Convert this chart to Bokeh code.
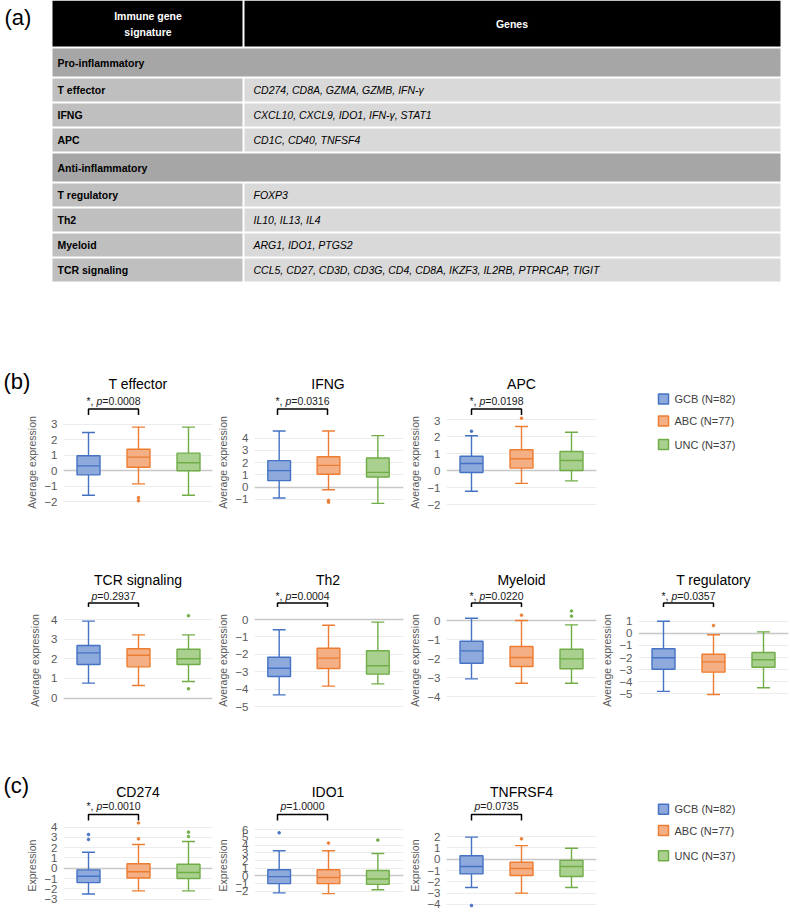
import math
from bokeh.plotting import figure
from bokeh.layouts import row, column
from bokeh.models import Range1d, FixedTicker, Grid, ColumnDataSource
from bokeh.core.properties import value
from bokeh.embed import file_html
from bokeh.resources import INLINE

FONT = "Liberation Sans"

# ============================ DATA ============================
groups = ["GCB", "ABC", "UNC"]
group_sizes = [82, 77, 37]

table_header = ["Immune gene", "signature", "Genes"]
table_sections = ["Pro-inflammatory", "Anti-inflammatory"]
table_signatures = ["T effector", "IFNG", "APC", "T regulatory", "Th2", "Myeloid", "TCR signaling"]
table_signature_section = [0, 0, 0, 1, 1, 1, 1]
table_genes = [
    "CD274, CD8A, GZMA, GZMB, IFN-γ",
    "CXCL10, CXCL9, IDO1, IFN-γ, STAT1",
    "CD1C, CD40, TNFSF4",
    "FOXP3",
    "IL10, IL13, IL4",
    "ARG1, IDO1, PTGS2",
    "CCL5, CD27, CD3D, CD3G, CD4, CD8A, IKZF3, IL2RB, PTPRCAP, TIGIT",
]

# box summaries per group (GCB, ABC, UNC): [lower whisker, Q1, median, Q3, upper whisker]
t_effector_box = [[-1.60, -0.28, 0.30, 0.95, 2.45], [-0.86, 0.21, 0.86, 1.37, 2.80], [-1.60, -0.02, 0.50, 1.12, 2.80]]
t_effector_out = [[], [-1.75, -1.95], []]
t_effector_ticks = [3, 2, 1, 0, -1, -2]
t_effector_p = "0.0008"

ifng_box = [[-0.90, 0.52, 1.34, 2.16, 4.59], [-0.22, 1.04, 1.77, 2.48, 4.59], [-1.34, 0.82, 1.20, 2.38, 4.21]]
ifng_out = [[], [-1.10, -1.25], []]
ifng_ticks = [4, 3, 2, 1, 0, -1]
ifng_p = "0.0316"

apc_box = [[-1.22, -0.12, 0.41, 0.84, 2.04], [-0.76, 0.14, 0.69, 1.22, 2.59], [-0.61, 0.00, 0.59, 1.12, 2.25]]
apc_out = [[2.31], [3.08], []]
apc_ticks = [3, 2, 1, 0, -1, -2]
apc_p = "0.0198"

tcr_box = [[0.76, 1.71, 2.30, 2.68, 3.92], [0.64, 1.59, 2.18, 2.51, 3.22], [0.84, 1.71, 2.00, 2.49, 3.22]]
tcr_out = [[], [], [4.20, 0.47]]
tcr_ticks = [4, 3, 2, 1, 0]
tcr_p = "0.2937"

th2_box = [[-4.33, -3.28, -2.80, -2.17, -0.59], [-3.83, -2.82, -2.22, -1.65, -0.33], [-3.70, -3.14, -2.66, -1.80, -0.15]]
th2_out = [[], [], []]
th2_ticks = [0, -1, -2, -3, -4, -5]
th2_p = "0.0004"

myeloid_box = [[-3.07, -2.25, -1.60, -1.09, 0.12], [-3.30, -2.42, -1.95, -1.37, 0.00], [-3.30, -2.54, -2.02, -1.51, -0.23]]
myeloid_out = [[], [0.28], [0.23, 0.50]]
myeloid_ticks = [0, -1, -2, -3, -4]
myeloid_p = "0.0220"

treg_box = [[-4.80, -2.97, -2.02, -1.28, 1.00], [-5.06, -3.21, -2.36, -1.73, -0.12], [-4.50, -2.80, -2.19, -1.59, 0.12]]
treg_out = [[], [0.64], []]
treg_ticks = [1, 0, -1, -2, -3, -4, -5]
treg_p = "0.0357"

cd274_box = [[-2.50, -1.40, -0.78, -0.16, 1.55], [-2.20, -0.95, -0.35, 0.43, 2.30], [-2.20, -1.00, -0.42, 0.39, 2.59]]
cd274_out = [[2.79, 3.27], [2.85, 4.40], [3.08, 3.50]]
cd274_ticks = [4, 3, 2, 1, 0, -1, -2, -3]
cd274_p = "0.0010"

ido1_box = [[-2.20, -1.00, -0.10, 0.80, 3.26], [-2.30, -1.00, -0.20, 0.80, 3.26], [-1.80, -1.10, -0.40, 0.70, 2.90]]
ido1_out = [[5.60], [4.26], [4.65]]
ido1_ticks = [6, 5, 4, 3, 2, 1, 0, -1, -2]
ido1_p = "1.0000"

tnfrsf4_box = [[-2.50, -1.30, -0.65, 0.30, 1.95], [-3.00, -1.44, -0.82, -0.27, 1.20], [-2.50, -1.53, -0.65, -0.10, 0.97]]
tnfrsf4_out = [[-4.10], [1.80], []]
tnfrsf4_ticks = [2, 1, 0, -1, -2, -3, -4]
tnfrsf4_p = "0.0735"

# ============================ STYLE / LAYOUT ============================
LINE_COLORS = ["#4472C4", "#ED7D31", "#70AD47"]
FILL_COLORS = ["#8EA9DB", "#F4B084", "#A9D08E"]
XPX = 50.0          # pixels per category slot
BOX_HALF = 0.23
CAP_HALF = 0.13
LW = 1.4
TICK_SIZE = 11.5

# columns: (figure left, figure right, frame left, frame right) in page px
COLS = [(0, 214, 63, 212), (214, 405, 252, 403), (405, 598, 446, 596), (598, 790, 638, 788)]
ROWS = {
    "b1": dict(top=360, split=416, fb=508, bottom=540, title=383, p=400, br_top=408.5, br_leg=414.5),
    "b2": dict(top=540, split=607, fb=713, bottom=740, title=579, p=595.5, br_top=602.5, br_leg=607),
    "c": dict(top=740, split=821, fb=909, bottom=918, title=791, p=805, br_top=814, br_leg=820),
}

CHAR_W = {"*": 389, ",": 278, " ": 278, "p": 556, "=": 584, ".": 278, "-": 333}


def text_width(s, size):
    return sum(CHAR_W.get(c, 556) for c in s) * size / 1000.0


def blank_fig(width, height, x_range, y_range):
    f = figure(width=width, height=height, x_range=x_range, y_range=y_range,
               output_backend="svg", toolbar_location=None, title_location=None,
               x_axis_location=None, y_axis_location=None, min_border=0,
               min_border_left=0, min_border_right=0, min_border_top=0, min_border_bottom=0)
    f.frame_align = False
    f.grid.visible = False
    f.outline_line_color = None
    f.background_fill_color = "white"
    f.border_fill_color = "white"
    return f


def header_fig(title, pval, star, col, rw, panel_label=None):
    fl, fr, xl, xr = COLS[col]
    R = ROWS[rw]
    h = blank_fig(fr - fl, R["split"] - R["top"],
                  Range1d((fl - xl) / XPX, (fr - xl) / XPX), Range1d(R["split"], R["top"]))
    xs = [i + 0.5 for i in range(len(groups))]
    h.text(x=[(xr - xl) / XPX / 2], y=[R["title"]], text=[title], text_font=value(FONT),
           text_font_size="14px", text_align="center", text_baseline="middle",
           text_color="#000000")
    size = 10.5
    parts = (["*, "] if star else []) + ["p", "=" + pval]
    styles = (["normal"] if star else []) + ["italic", "normal"]
    total = sum(text_width(s, size) for s in parts)
    offs, cur = [], -total / 2
    for s in parts:
        offs.append(cur)
        cur += text_width(s, size)
    mid = (xs[0] + xs[1]) / 2
    psrc = ColumnDataSource(dict(x=[mid] * len(parts), y=[R["p"]] * len(parts),
                                 t=parts, st=styles, xo=offs))
    h.text(x="x", y="y", text="t", text_font_style="st", x_offset="xo", source=psrc,
           text_font=value(FONT), text_font_size=f"{size}px", text_align="left",
           text_baseline="middle", text_color="#1a1a1a")
    h.line(x=[xs[0], xs[0], xs[1], xs[1]],
           y=[R["br_leg"], R["br_top"], R["br_top"], R["br_leg"]],
           line_color="#000000", line_width=1.5)
    if panel_label:
        h.text(x=[(3 - xl) / XPX], y=[381 if rw == "b1" else 785], text=[panel_label],
               text_font=value(FONT), text_font_size="22px", text_align="left",
               text_baseline="middle", text_color="#000000")
    return h


def plot_fig(box, out, ticks, ylabel, col, rw, y0px, ppu):
    fl, fr, xl, xr = COLS[col]
    R = ROWS[rw]
    top, bottom, fb = R["split"], R["bottom"], R["fb"]

    def py(page_y):
        return (y0px - page_y) / ppu

    xw = (xr - xl) / XPX
    p = figure(width=fr - fl, height=bottom - top,
               x_range=Range1d(0, xw), y_range=Range1d(py(fb), py(top)),
               output_backend="svg", toolbar_location=None, title_location=None,
               x_axis_location=None, y_axis_location="left",
               min_border_left=xl - fl, min_border_right=fr - xr,
               min_border_top=0, min_border_bottom=bottom - fb)
    p.frame_align = False
    p.background_fill_color = "white"
    p.border_fill_color = "white"
    p.outline_line_color = None

    tk = FixedTicker(ticks=ticks)
    ax = p.yaxis[0]
    ax.ticker = tk
    ax.axis_line_color = None
    ax.major_tick_line_color = None
    ax.minor_tick_line_color = None
    ax.major_tick_out = 0
    ax.major_tick_in = 0
    ax.major_label_standoff = 6
    ax.major_label_text_font = FONT
    ax.major_label_text_font_size = f"{TICK_SIZE}px"
    ax.major_label_text_color = "#595959"
    widest = max(text_width(str(t), TICK_SIZE) for t in ticks)
    ax.axis_label = ylabel
    ax.axis_label_text_font = FONT
    ax.axis_label_text_font_size = "10.5px"
    ax.axis_label_text_font_style = "normal"
    ax.axis_label_text_color = "#595959"
    ax.axis_label_standoff = max(0, int(round(25 - 6 - widest - 6)))

    p.ygrid.ticker = tk
    p.ygrid.grid_line_color = "#ececec"
    p.xgrid.visible = False
    if 0 in ticks:
        p.add_layout(Grid(dimension=1, ticker=FixedTicker(ticks=[0]),
                          grid_line_color="#c8c8c8", grid_line_width=1.3))

    xs = [i + 0.5 for i in range(len(groups))]
    src = ColumnDataSource(dict(
        x=xs,
        bl=[x - BOX_HALF for x in xs], br=[x + BOX_HALF for x in xs],
        cl=[x - CAP_HALF for x in xs], cr=[x + CAP_HALF for x in xs],
        lo=[b[0] for b in box], q1=[b[1] for b in box], med=[b[2] for b in box],
        q3=[b[3] for b in box], hi=[b[4] for b in box],
        lc=LINE_COLORS, fc=FILL_COLORS))
    p.segment(x0="x", y0="lo", x1="x", y1="q1", line_color="lc", line_width=LW, source=src)
    p.segment(x0="x", y0="q3", x1="x", y1="hi", line_color="lc", line_width=LW, source=src)
    p.segment(x0="cl", y0="lo", x1="cr", y1="lo", line_color="lc", line_width=LW, source=src)
    p.segment(x0="cl", y0="hi", x1="cr", y1="hi", line_color="lc", line_width=LW, source=src)
    p.quad(left="bl", right="br", bottom="q1", top="q3", fill_color="fc",
           line_color="lc", line_width=LW, source=src)
    p.segment(x0="bl", y0="med", x1="br", y1="med", line_color="lc", line_width=LW, source=src)

    ox, oy, oc = [], [], []
    for i, vals in enumerate(out):
        for v in vals:
            ox.append(xs[i]); oy.append(v); oc.append(LINE_COLORS[i])
    if ox:
        p.scatter(x=ox, y=oy, size=2.6, color=oc)
    return p


def panel(title, box, out, ticks, pval, star, ylabel, col, rw, y0px, ppu, panel_label=None):
    return column(header_fig(title, pval, star, col, rw, panel_label),
                  plot_fig(box, out, ticks, ylabel, col, rw, y0px, ppu), spacing=0)


def legend_fig(top, bottom, ys):
    lf = blank_fig(192, bottom - top, Range1d(598, 790), Range1d(bottom, top))
    lf.rect(x=[663] * 3, y=ys, width=10, height=10, fill_color=FILL_COLORS,
            line_color=LINE_COLORS, line_width=1.5)
    lf.text(x=[674] * 3, y=ys, text=[f"{g} (N={n})" for g, n in zip(groups, group_sizes)],
            text_font=value(FONT), text_font_size="11px", text_align="left",
            text_baseline="middle", text_color="#404040")
    return lf


# ============================ TABLE ============================
tf = blank_fig(790, 360, Range1d(0, 790), Range1d(360, 0))

T_L, T_SPLIT, T_R = 52, 243, 780
HEAD_H, SEC_H, ROW_H, GAP = 46, 28, 23, 2

q_l, q_r, q_t, q_b, q_c = [], [], [], [], []
txt_x, txt_y, txt_t, txt_st, txt_c, txt_al = [], [], [], [], [], []

q_l += [T_L, T_SPLIT + 1]; q_r += [T_SPLIT - 1, T_R]; q_t += [0, 0]; q_b += [HEAD_H, HEAD_H]
q_c += ["#000000", "#000000"]
hx = (T_L + T_SPLIT) / 2
txt_x += [hx, hx, (T_SPLIT + T_R) / 2]; txt_y += [15, 31, 23]
txt_t += table_header; txt_st += ["bold"] * 3; txt_c += ["#ffffff"] * 3
txt_al += ["center"] * 3

y = HEAD_H + GAP
for si, sec in enumerate(table_sections):
    q_l.append(T_L); q_r.append(T_R); q_t.append(y); q_b.append(y + SEC_H); q_c.append("#a6a6a6")
    txt_x.append(T_L + 5); txt_y.append(y + SEC_H / 2); txt_t.append(sec)
    txt_st.append("bold"); txt_c.append("#000000"); txt_al.append("left")
    y += SEC_H + GAP
    for name, s, genes in zip(table_signatures, table_signature_section, table_genes):
        if s != si:
            continue
        q_l += [T_L, T_SPLIT + 1]; q_r += [T_SPLIT - 1, T_R]
        q_t += [y, y]; q_b += [y + ROW_H, y + ROW_H]; q_c += ["#bfbfbf", "#d9d9d9"]
        txt_x += [T_L + 5, T_SPLIT + 10]; txt_y += [y + ROW_H / 2] * 2
        txt_t += [name, genes]; txt_st += ["bold", "italic"]
        txt_c += ["#000000", "#000000"]; txt_al += ["left", "left"]
        y += ROW_H + GAP

tf.quad(left=q_l, right=q_r, top=q_t, bottom=q_b, fill_color=q_c, line_color=None)
tsrc = ColumnDataSource(dict(x=txt_x, y=txt_y, t=txt_t, st=txt_st, c=txt_c, al=txt_al))
tf.text(x="x", y="y", text="t", text_font_style="st", text_color="c", text_align="al",
        source=tsrc, text_font=value(FONT), text_font_size="10.5px", text_baseline="middle")
tf.text(x=[4], y=[17], text=["(a)"], text_font=value(FONT), text_font_size="22px",
        text_align="left", text_baseline="middle", text_color="#000000")

# ============================ PANELS ============================
AVG = "Average expression"
EXP = "Expression"
c_teff = panel("T effector", t_effector_box, t_effector_out, t_effector_ticks, t_effector_p, True,
               AVG, 0, "b1", 470.0, 15.5, panel_label="(b)")
c_ifng = panel("IFNG", ifng_box, ifng_out, ifng_ticks, ifng_p, True, AVG, 1, "b1", 486.5, 12.2)
c_apc = panel("APC", apc_box, apc_out, apc_ticks, apc_p, True, AVG, 2, "b1", 470.0, 17.0)
leg1 = legend_fig(360, 540, [398.5, 420.5, 444.0])

c_tcr = panel("TCR signaling", tcr_box, tcr_out, tcr_ticks, tcr_p, False, AVG, 0, "b2", 697.5, 19.6)
c_th2 = panel("Th2", th2_box, th2_out, th2_ticks, th2_p, True, AVG, 1, "b2", 619.0, 17.4)
c_mye = panel("Myeloid", myeloid_box, myeloid_out, myeloid_ticks, myeloid_p, True, AVG, 2, "b2", 620.0, 19.0)
c_treg = panel("T regulatory", treg_box, treg_out, treg_ticks, treg_p, True, AVG, 3, "b2", 632.8, 12.1)

c_cd274 = panel("CD274", cd274_box, cd274_out, cd274_ticks, cd274_p, True, EXP, 0, "c", 867.7, 10.3,
                panel_label="(c)")
c_ido1 = panel("IDO1", ido1_box, ido1_out, ido1_ticks, ido1_p, False, EXP, 1, "c", 875.4, 7.7)
c_tnf = panel("TNFRSF4", tnfrsf4_box, tnfrsf4_out, tnfrsf4_ticks, tnfrsf4_p, False, EXP, 2, "c", 858.7, 11.3)
leg2 = legend_fig(740, 918, [808.7, 830.0, 855.3])

layout = column(
    tf,
    row(c_teff, c_ifng, c_apc, leg1, spacing=0),
    row(c_tcr, c_th2, c_mye, c_treg, spacing=0),
    row(c_cd274, c_ido1, c_tnf, leg2, spacing=0),
    spacing=0,
)

open("out.html", "w").write(file_html(layout, INLINE))
